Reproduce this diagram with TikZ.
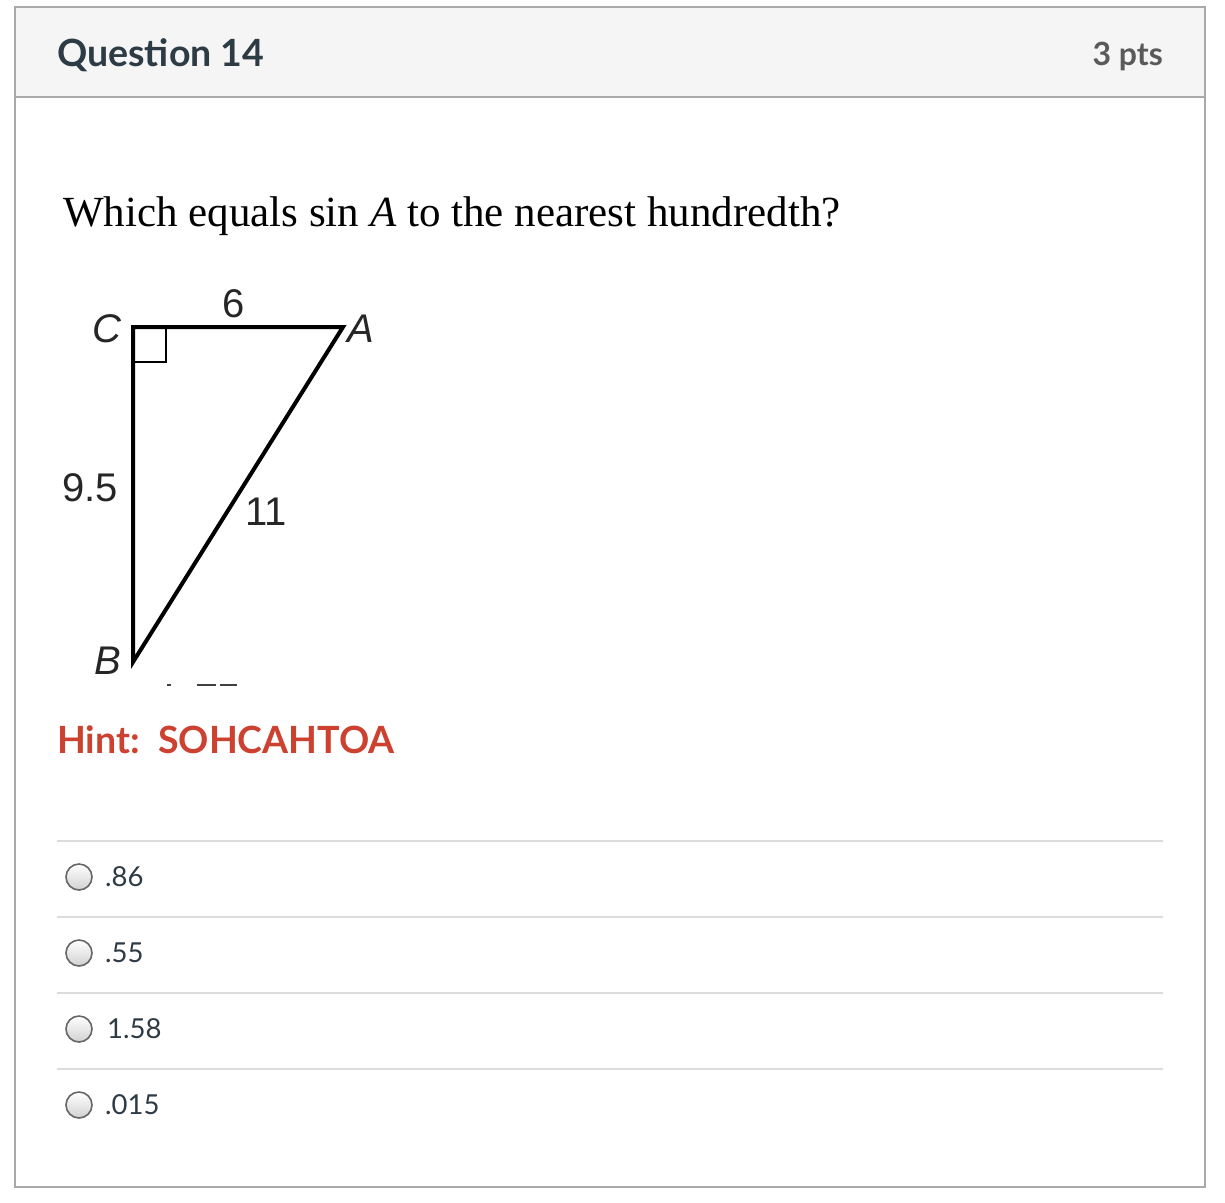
\documentclass[tikz,border=0pt]{standalone}
\usepackage{fontspec}
\setmainfont{Liberation Serif}
\newfontfamily\lato{Lato}
\newfontfamily\arial{Liberation Sans}
\definecolor{ink}{HTML}{2D3B45}
\definecolor{ptsgray}{HTML}{5A5A5A}
\definecolor{hintred}{HTML}{CC412F}
\definecolor{frame}{HTML}{A9A9A9}
\definecolor{headfill}{HTML}{F5F5F5}
\definecolor{sepgray}{HTML}{DCDCDC}
\tikzset{
  tri/.style={line width=4pt, line join=miter},
  trilab/.style={inner sep=0pt, font=\arial\fontsize{40}{46}\selectfont, text=black!85},
  sep/.style={draw=sepgray, line width=2pt},
  radio/.style={circle, draw=black!60, line width=1.6pt, minimum size=26pt, inner sep=0pt, top color=white, bottom color=black!18},
  opt/.style={anchor=west, inner sep=0pt, font=\lato\fontsize{27.5}{32}\selectfont, text=ink},
}
\begin{document}
\begin{tikzpicture}[x=1pt,y=-1pt]
\useasboundingbox (0,0) rectangle (1225,1202);
\fill[white] (0,0) rectangle (1225,1202);
% frame and header
\draw[frame, line width=2pt, fill=white] (15,7) rectangle (1205,1187);
\draw[frame, line width=2pt, fill=headfill] (15,7) rectangle (1205,97);
\node[anchor=base west, inner sep=0pt, font=\lato\bfseries\fontsize{37.5}{44}\selectfont, text=ink] (qtitle) at (57,66) {Question 14};
\node[anchor=base east, inner sep=0pt, font=\lato\bfseries\fontsize{32}{38}\selectfont, text=ptsgray] (pts) at (1163,65) {3 pts};
% question
\node[anchor=base west, inner sep=0pt, font=\fontsize{43}{50}\selectfont] (qtext) at (63,226) {Which equals sin \textit{A} to the nearest hundredth?};
% triangle
\coordinate (C) at (133,327);
\coordinate (A) at (343,327);
\coordinate (B) at (133,662);
\draw[tri] (A) -- (C) -- (B) -- cycle;
\draw[line width=1.5pt] (133,362) -- (166,362) -- (166,327);
\node[trilab] (lC) at (107,329) {\itshape C};
\node[trilab] (lA) at (361,329) {\itshape A};
\node[trilab] (lB) at (108,661) {\itshape B};
\node[trilab] (l6) at (234,304) {6};
\node[trilab] (l95) at (90,488) {9.5};
\node[trilab] (l11) at (266,512) {11};
% cut-off fragments
\draw[line width=2.5pt, black!75] (167,685) -- (171,685);
\draw[line width=2.5pt, black!75] (197,685) -- (216,685);
\draw[line width=2.5pt, black!75] (220,685) -- (237,685);
% hint
\node[anchor=base west, inner sep=0pt, font=\lato\bfseries\fontsize{37.5}{44}\selectfont, text=hintred] (hint) at (57,753) {Hint:\ \ SOHCAHTOA};
% separators and options
\foreach \y in {841,917,993,1069} \draw[sep] (57,\y) -- (1163,\y);
\node[radio] (r1) at (79,877) {};
\node[radio] (r2) at (79,953) {};
\node[radio] (r3) at (79,1029) {};
\node[radio] (r4) at (79,1105) {};
\node[opt] (o1) at (105,877) {.86};
\node[opt] (o2) at (105,953) {.55};
\node[opt] (o3) at (107,1029) {1.58};
\node[opt] (o4) at (105,1105) {.015};
\end{tikzpicture}
\end{document}
